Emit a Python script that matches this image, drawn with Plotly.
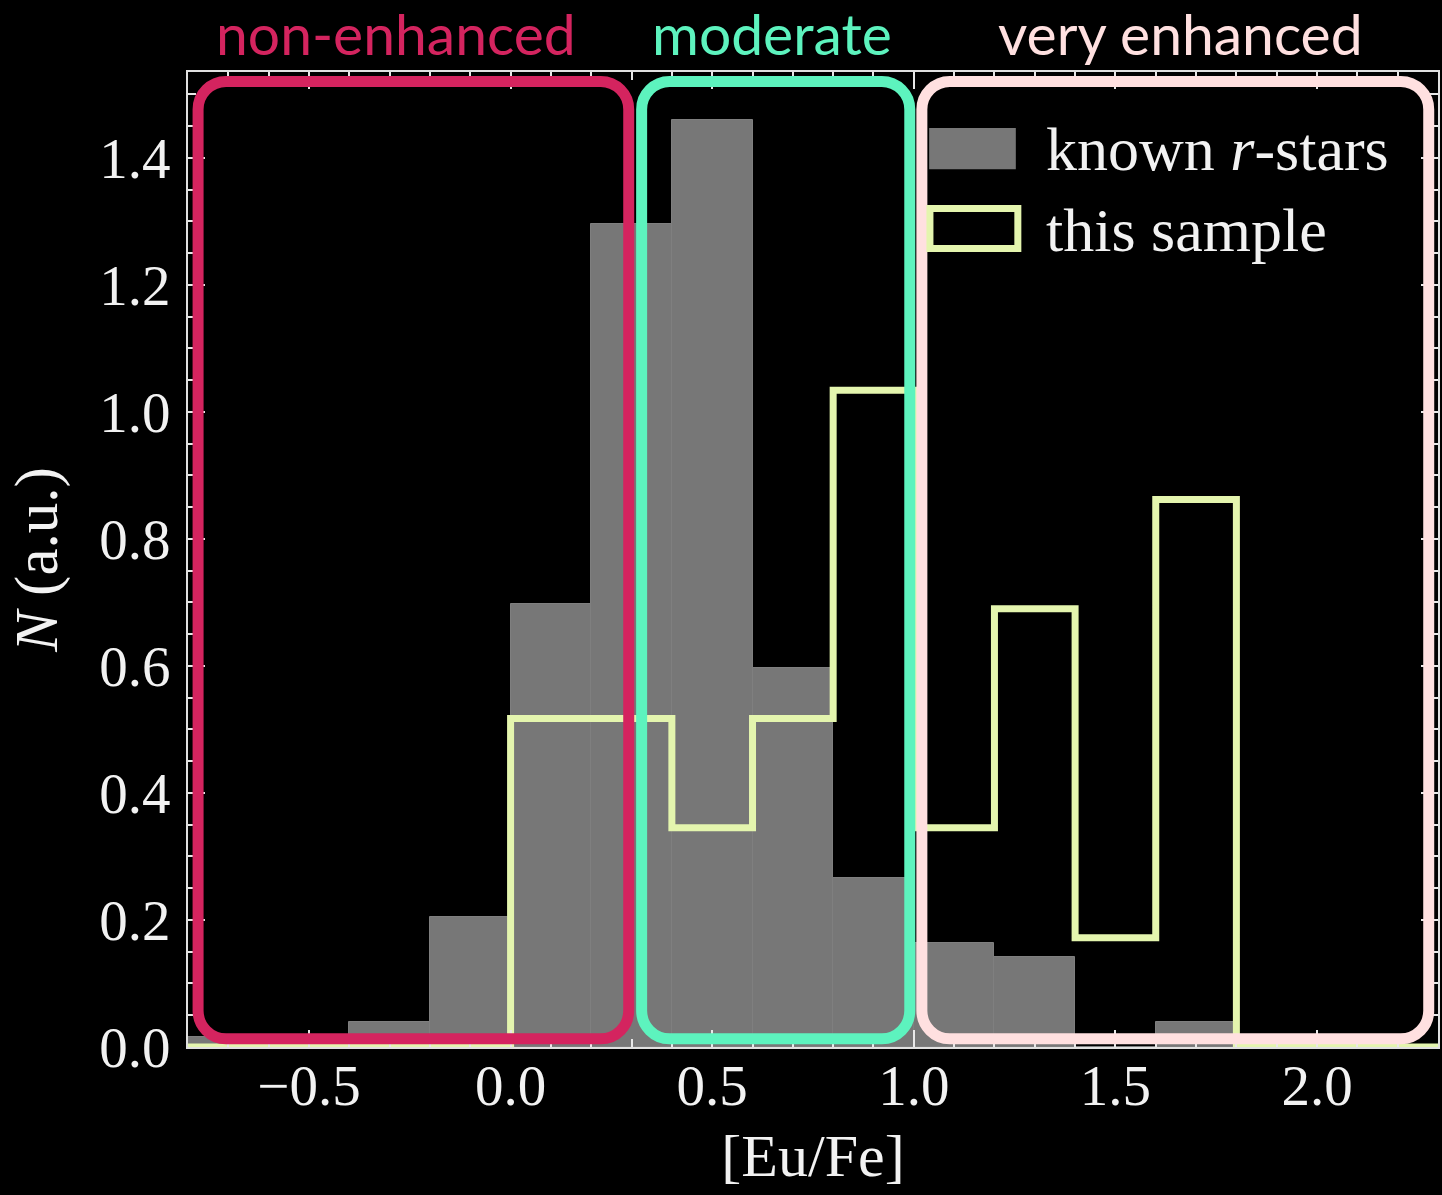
import plotly.graph_objects as go

# [Eu/Fe] histogram, bin width 0.2
bin_width = 0.2
known_left_edges = [-0.8, -0.6, -0.4, -0.2, 0.0, 0.2, 0.4, 0.6, 0.8, 1.0, 1.2, 1.4, 1.6]
known_density = [0.016, 0.0, 0.040, 0.205, 0.698, 1.295, 1.460, 0.596, 0.266, 0.164, 0.142, 0.0, 0.039]

sample_left_edges = [0.0, 0.2, 0.4, 0.6, 0.8, 1.0, 1.2, 1.4, 1.6]
sample_density = [0.517, 0.517, 0.345, 0.517, 1.034, 0.345, 0.690, 0.172, 0.862]

x_ticks = [-0.5, 0.0, 0.5, 1.0, 1.5, 2.0]
x_tick_text = ["\u22120.5", "0.0", "0.5", "1.0", "1.5", "2.0"]
y_ticks = [0.0, 0.2, 0.4, 0.6, 0.8, 1.0, 1.2, 1.4]

X_RANGE = [-0.8, 2.3]
Y_RANGE = [0.0, 1.535]

# regions of enrichment: (label, x0, x1, colour)
regions = [
    ("non-enhanced", -0.775, 0.293, "#d4245f"),
    ("moderate", 0.325, 0.990, "#5df3be"),
    ("very enhanced", 1.020, 2.277, "#ffe0e0"),
]
region_label_x = [-0.283, 0.648, 1.662]

W, H = 1442, 1195
M_L, M_R, M_T, M_B = 188, 2, 72, 148
PLOT_W = W - M_L - M_R
PLOT_H = H - M_T - M_B

BAR_GRAY = "#777777"
STEP_COLOR = "#e4f5ae"
FG = "#f2f2f2"
SERIF = "Liberation Serif, DejaVu Serif, serif"
SANS = "Lato, Open Sans, sans-serif"

fig = go.Figure()

fig.add_trace(go.Bar(
    x=[e + bin_width / 2 for e in known_left_edges],
    y=known_density,
    width=bin_width,
    marker=dict(color=BAR_GRAY, line=dict(color="#7f7f7f", width=1)),
    showlegend=False,
    hoverinfo="x+y",
))

# step outline for the sample, dropping to zero outside the occupied bins
step_x = [X_RANGE[0]] + sample_left_edges + [sample_left_edges[-1] + bin_width, X_RANGE[1]]
step_y = [0.0] + sample_density + [0.0, 0.0]
fig.add_trace(go.Scatter(
    x=step_x, y=step_y, mode="lines",
    line=dict(color=STEP_COLOR, width=7, shape="hv"),
    showlegend=False,
    cliponaxis=True,
))


def to_paper_x(v):
    return (v - X_RANGE[0]) / (X_RANGE[1] - X_RANGE[0])


def to_paper_y(v):
    return (v - Y_RANGE[0]) / (Y_RANGE[1] - Y_RANGE[0])


def rounded_rect(x0, y0, x1, y1, r_px):
    """SVG path (paper units) of a rectangle with circular corners of r_px pixels."""
    rx = r_px / PLOT_W
    ry = r_px / PLOT_H
    k = 0.5523
    p = []
    p.append(f"M {x0 + rx},{y1}")
    p.append(f"L {x1 - rx},{y1}")
    p.append(f"C {x1 - rx + k * rx},{y1} {x1},{y1 - ry + k * ry} {x1},{y1 - ry}")
    p.append(f"L {x1},{y0 + ry}")
    p.append(f"C {x1},{y0 + ry - k * ry} {x1 - rx + k * rx},{y0} {x1 - rx},{y0}")
    p.append(f"L {x0 + rx},{y0}")
    p.append(f"C {x0 + rx - k * rx},{y0} {x0},{y0 + ry - k * ry} {x0},{y0 + ry}")
    p.append(f"L {x0},{y1 - ry}")
    p.append(f"C {x0},{y1 - ry + k * ry} {x0 + rx - k * rx},{y1} {x0 + rx},{y1}")
    p.append("Z")
    return " ".join(p)


shapes = []
annotations = []
box_y0, box_y1 = 0.013, 1.520
label_y = 1.0 + (M_T - 33) / PLOT_H
for (label, x0, x1, col), lx in zip(regions, region_label_x):
    shapes.append(dict(
        type="path", xref="paper", yref="paper",
        path=rounded_rect(to_paper_x(x0), to_paper_y(box_y0),
                          to_paper_x(x1), to_paper_y(box_y1), 28),
        line=dict(color=col, width=11), fillcolor="rgba(0,0,0,0)", layer="above",
    ))
    annotations.append(dict(
        x=to_paper_x(lx), y=label_y, xref="paper", yref="paper",
        yanchor="middle", xanchor="center", borderpad=0,
        text=label, showarrow=False,
        font=dict(family=SANS, size=57, color=col),
    ))

# legend swatches and labels
shapes.append(dict(type="rect", xref="x", yref="y",
                   x0=1.038, x1=1.253, y0=1.382, y1=1.447,
                   fillcolor=BAR_GRAY, line=dict(width=0), layer="above"))
shapes.append(dict(type="rect", xref="x", yref="y",
                   x0=1.040, x1=1.258, y0=1.257, y1=1.320,
                   fillcolor="#000000", line=dict(color=STEP_COLOR, width=7), layer="above"))
annotations.append(dict(x=1.324, y=1.413, xref="x", yref="y", xanchor="left", yanchor="middle",
                        text="known <i>r</i>-stars", showarrow=False,
                        font=dict(family=SERIF, size=62, color=FG)))
annotations.append(dict(x=1.324, y=1.287, xref="x", yref="y", xanchor="left", yanchor="middle",
                        text="this sample", showarrow=False,
                        font=dict(family=SERIF, size=62, color=FG)))

axis_common = dict(
    showline=True, linecolor="#e0e0e0", linewidth=2, mirror="allticks",
    ticks="inside", ticklen=17, tickwidth=2, tickcolor="#e8e8e8",
    showgrid=False, zeroline=False,
    tickfont=dict(family=SERIF, size=57, color=FG),
)

fig.update_layout(
    width=W, height=H,
    margin=dict(l=M_L, r=M_R, t=M_T, b=M_B),
    paper_bgcolor="#000000", plot_bgcolor="#000000",
    bargap=0,
    showlegend=False,
    xaxis=dict(
        range=X_RANGE, tickvals=x_ticks, ticktext=x_tick_text,
        minor=dict(ticks="inside", dtick=0.1, tick0=0, ticklen=8, tickwidth=2, tickcolor="#e8e8e8"),
        title=dict(text="[Eu/Fe]", font=dict(family=SERIF, size=60, color=FG), standoff=18),
        ticklabelstandoff=-12,
        **axis_common,
    ),
    yaxis=dict(
        range=Y_RANGE, tickvals=y_ticks, tickformat=".1f",
        minor=dict(ticks="inside", dtick=0.05, tick0=0, ticklen=8, tickwidth=2, tickcolor="#e8e8e8"),
        title=dict(text="<i>N</i> (a.u.)", font=dict(family=SERIF, size=61, color=FG), standoff=22),
        ticklabelstandoff=4,
        **axis_common,
    ),
    shapes=shapes,
    annotations=annotations,
)

fig.write_html("out.html")
